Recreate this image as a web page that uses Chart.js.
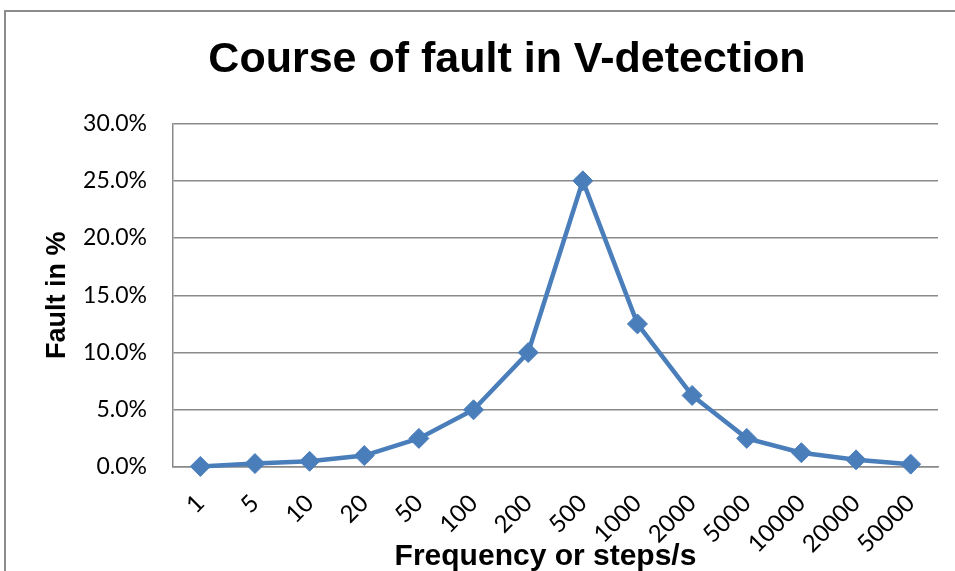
<!DOCTYPE html>
<html>
<head>
<meta charset="utf-8">
<title>Course of fault in V-detection</title>
<script src="https://cdn.jsdelivr.net/npm/chart.js@4.4.1/dist/chart.umd.min.js"></script>
<style>
  html, body { margin: 0; padding: 0; background: #fff; overflow: hidden; }
  #frame {
    position: absolute; left: 4px; top: 10px; width: 1000px; height: 600px;
    border-top: 2px solid #8c8c8c; border-left: 2px solid #8c8c8c;
  }
  #wrap { position: absolute; left: 0; top: 0; width: 955px; height: 571px; }
</style>
</head>
<body>
<div id="frame"></div>
<div id="wrap"><canvas id="chart" width="955" height="571"></canvas></div>
<script>
// Frequency (steps per second) on the category axis
const categories = ['1', '5', '10', '20', '50', '100', '200', '500', '1000', '2000', '5000', '10000', '20000', '50000'];
// Measured fault, in percent
const faultPercent = [0.05, 0.3, 0.5, 1.0, 2.5, 5.0, 10.0, 25.0, 12.5, 6.25, 2.5, 1.25, 0.625, 0.25];
// Y axis tick values, in percent
const yTickValues = [0, 5, 10, 15, 20, 25, 30];

const chartTitle = 'Course of fault in V-detection';
const yAxisTitle = 'Fault in %';
const xAxisTitle = 'Frequency or steps/s';

const LINE_BLUE = '#4a7ebb';
const GRID_GREY = '#8a8a8a';
const BOLD_FACE = '"Liberation Sans", Arial, sans-serif';
const TICK_FACE = 'Lato, "Open Sans", sans-serif';

// Bottom axis caption, drawn under the rotated tick labels
const axisCaption = {
  id: 'axisCaption',
  afterDraw(chart) {
    const { ctx, chartArea } = chart;
    ctx.save();
    ctx.font = 'bold 30px ' + BOLD_FACE;
    ctx.fillStyle = '#000';
    ctx.textAlign = 'center';
    ctx.textBaseline = 'alphabetic';
    ctx.fillText(xAxisTitle, (chartArea.left + chartArea.right) / 2 - 10, chart.height - 6);
    ctx.restore();
  }
};

function draw() {
  new Chart(document.getElementById('chart'), {
    type: 'line',
    data: {
      labels: categories,
      datasets: [{
        data: faultPercent,
        borderColor: LINE_BLUE,
        backgroundColor: LINE_BLUE,
        borderWidth: 4.5,
        tension: 0,
        fill: false,
        clip: false,
        pointStyle: 'rectRot',
        pointRadius: 10,
        pointBorderWidth: 1,
        pointBackgroundColor: LINE_BLUE,
        pointBorderColor: LINE_BLUE
      }]
    },
    options: {
      responsive: false,
      animation: false,
      devicePixelRatio: 1,
      layout: { padding: { left: 76, right: 17, top: 0, bottom: 0 } },
      plugins: {
        legend: { display: false },
        tooltip: { enabled: false },
        title: {
          display: true,
          text: chartTitle,
          color: '#000',
          font: { family: BOLD_FACE, size: 43, weight: 'bold', lineHeight: 1.2 },
          padding: { top: 34, bottom: 38 }
        }
      },
      scales: {
        x: {
          type: 'category',
          offset: true,
          grid: { display: false, drawTicks: false },
          border: { display: true, color: GRID_GREY, width: 1.5 },
          ticks: {
            autoSkip: false,
            minRotation: 45,
            maxRotation: 45,
            padding: 22,
            color: '#000',
            font: { family: TICK_FACE, size: 24 }
          },
          afterFit(scale) { scale.height = 104; }
        },
        y: {
          min: 0,
          max: 30,
          afterBuildTicks(scale) { scale.ticks = yTickValues.map(v => ({ value: v })); },
          grid: { color: GRID_GREY, lineWidth: 1.5, drawTicks: false },
          border: { display: true, color: GRID_GREY, width: 1.5 },
          ticks: {
            padding: 26,
            color: '#000',
            font: { family: TICK_FACE, size: 23 },
            callback: v => v.toFixed(1) + '%'
          },
          title: {
            display: true,
            text: yAxisTitle,
            color: '#000',
            font: { family: BOLD_FACE, size: 27, weight: 'bold', lineHeight: 1.2 },
            padding: { top: -35, bottom: 0 }
          },
          afterFit(scale) { scale.width = 97; }
        }
      }
    },
    plugins: [axisCaption]
  });
}

Promise.all([
  document.fonts.load('23px Lato'),
  document.fonts.load('bold 30px "Liberation Sans"')
]).catch(() => {}).then(draw);
</script>
</body>
</html>
